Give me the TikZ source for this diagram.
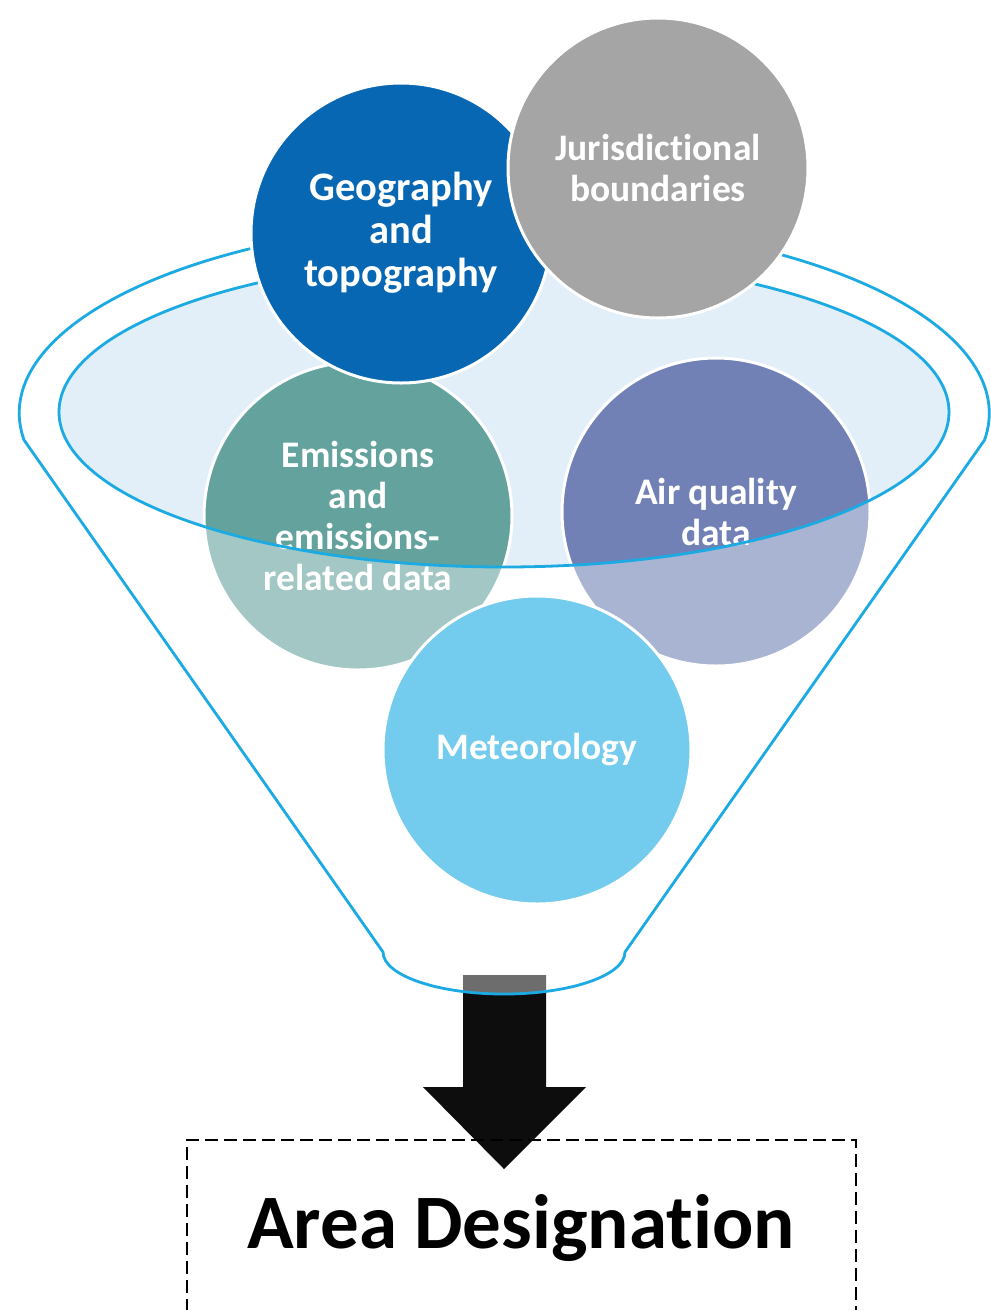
\documentclass[tikz,border=0pt]{standalone}
\usepackage{fontspec}
\setmainfont{Carlito}[RawFeature={-liga;-clig;-dlig;-calt}]
\definecolor{funnelblue}{RGB}{27,170,226}
\definecolor{lidfill}{RGB}{226,238,248}
\definecolor{geoblue}{RGB}{8,103,178}
\definecolor{jurgrey}{RGB}{165,165,165}
\definecolor{emiteal}{RGB}{100,163,157}
\definecolor{airblue}{RGB}{113,129,181}
\definecolor{metblue}{RGB}{115,203,237}
\definecolor{arrowblack}{RGB}{13,13,13}
\newcommand\nolig{\kern0pt }
\tikzset{
  bubble/.style={circle, draw=white, line width=3pt, minimum size=#1, inner sep=0pt,
    text=white, font=\bfseries\fontsize{37.5}{41}\selectfont, align=center},
  bigtext/.style={font=\bfseries\fontsize{40.5}{43}\selectfont},
  funnelline/.style={draw=funnelblue, line width=2.8pt},
  boxline/.style={draw=black, line width=1.3pt, dash pattern=on 13pt off 6pt},
}
\begin{document}
\begin{tikzpicture}[x=1pt,y=-1pt]
\useasboundingbox (0,0) rectangle (991,1310);
% block arrow
\fill[arrowblack] (463,975) -- (546,975) -- (546,1087) -- (586,1087) -- (504,1169)
  -- (423,1087) -- (463,1087) -- cycle;
% lid fill
\fill[lidfill] (504,412) ellipse [x radius=445pt, y radius=155pt];
% back circles
\node[bubble=308pt, fill=emiteal] (emi) at (358,516) {Emissions\\and\\emissions-\\related data};
\node[bubble=308pt, fill=airblue] (air) at (716,512) {Air quality\\data};
% funnel body overlay
\fill[white, fill opacity=0.4, even odd rule]
  (24,440) arc[start angle=188, end angle=-8, x radius=485pt, y radius=193pt]
  -- (625,952) arc[start angle=0, end angle=-180, x radius=121pt, y radius=42pt] -- cycle
  (504,412) ellipse [x radius=445pt, y radius=155pt];
% funnel outlines
\draw[funnelline, line join=round]
  (24,440) arc[start angle=188, end angle=-8, x radius=485pt, y radius=193pt]
  -- (625,952) arc[start angle=0, end angle=-180, x radius=121pt, y radius=42pt] -- cycle;
\draw[funnelline] (504,412) ellipse [x radius=445pt, y radius=155pt];
% front circles
\node[bubble=308pt, fill=metblue] (met) at (537,750) {Meteorology};
\node[bubble=300pt, fill=geoblue, bigtext] (geo) at (401,233) {Geography\\and\\topography};
\node[bubble=300pt, fill=jurgrey] (jur) at (658,168) {Jurisdict\nolig ional\\boundaries};
% result box
\draw[boxline] (187,1312) -- (187,1140) -- (856,1140) -- (856,1312);
\node[anchor=base, inner sep=0pt, font=\bfseries\fontsize{77}{90}\selectfont] (area) at (521,1248) {Area Designat\nolig ion};
\end{tikzpicture}
\end{document}
